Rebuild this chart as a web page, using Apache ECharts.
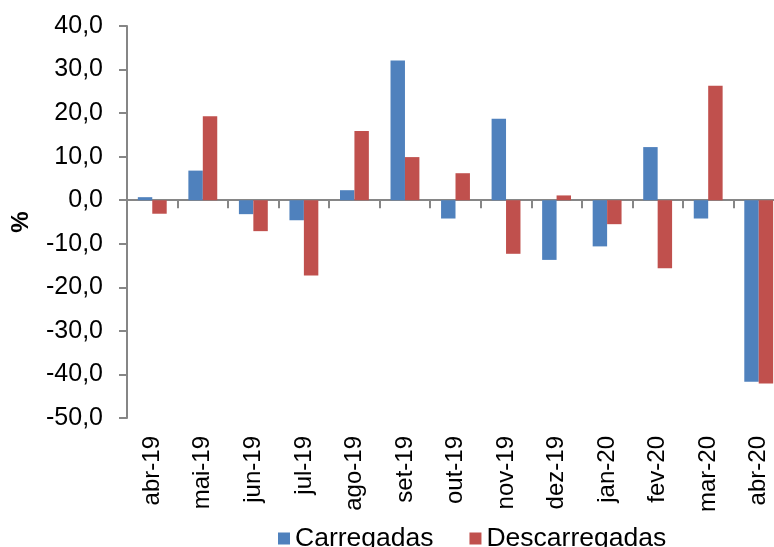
<!DOCTYPE html>
<html>
<head>
<meta charset="utf-8">
<script src="https://cdn.jsdelivr.net/npm/echarts@6/dist/echarts.min.js"></script>
<style>
  html, body { margin: 0; padding: 0; background: #ffffff; }
  #chart { width: 774px; height: 547px; }
</style>
</head>
<body>
<div id="chart"></div>
<script>
// Monthly change (%) of loaded and unloaded cargo
var months = ['abr-19', 'mai-19', 'jun-19', 'jul-19', 'ago-19', 'set-19', 'out-19',
              'nov-19', 'dez-19', 'jan-20', 'fev-20', 'mar-20', 'abr-20'];
var carregadas    = [0.7, 6.8, -3.2, -4.6, 2.3, 32.1, -4.2, 18.7, -13.7, -10.6, 12.2, -4.2, -41.7];
var descarregadas = [-3.1, 19.3, -7.1, -17.3, 15.9, 9.9, 6.2, -12.3, 1.1, -5.5, -15.6, 26.3, -42.1];
var seriesNames = ['Carregadas', 'Descarregadas'];

var FONT = '"Liberation Sans", Arial, sans-serif';
var AXIS_GRAY = '#868686';

var chart = echarts.init(document.getElementById('chart'), null, { renderer: 'canvas' });

chart.setOption({
  animation: false,
  backgroundColor: '#ffffff',
  textStyle: { fontFamily: FONT },
  grid: {
    left: 127, top: 26, right: -10, bottom: 129,
    containLabel: false,
    outerBoundsMode: 'none'
  },
  legend: {
    data: seriesNames,
    left: 278,
    top: 525,
    padding: 0,
    itemWidth: 12,
    itemHeight: 12,
    itemGap: 36,
    icon: 'rect',
    textStyle: { fontFamily: FONT, fontSize: 26.5, color: '#000000' }
  },
  xAxis: [
    {
      // category axis drawn along the zero line
      type: 'category',
      data: months,
      axisLine: { onZero: true, lineStyle: { color: AXIS_GRAY, width: 2 } },
      axisTick: { show: true, length: 8, lineStyle: { color: AXIS_GRAY, width: 2 } },
      axisLabel: { show: false },
      splitLine: { show: false }
    },
    {
      // month labels along the bottom of the plot
      type: 'category',
      data: months,
      position: 'bottom',
      axisLine: { show: false, onZero: false },
      axisTick: { show: false },
      axisLabel: {
        show: true,
        rotate: 90,
        margin: 18,
        interval: 0,
        fontFamily: FONT,
        fontSize: 24,
        color: '#000000'
      },
      splitLine: { show: false }
    }
  ],
  yAxis: {
    type: 'value',
    min: -50,
    max: 40,
    interval: 10,
    name: '%',
    nameLocation: 'middle',
    nameGap: 94,
    nameRotate: 90,
    nameTextStyle: { fontFamily: FONT, fontSize: 24, fontWeight: 'bold', color: '#000000' },
    axisLine: { show: true, lineStyle: { color: AXIS_GRAY, width: 2 } },
    axisTick: { show: true, length: 8, lineStyle: { color: AXIS_GRAY, width: 2 } },
    axisLabel: {
      margin: 24,
      fontFamily: FONT,
      fontSize: 25,
      color: '#000000',
      formatter: function (v) { return v.toFixed(1).replace('.', ','); }
    },
    splitLine: { show: false }
  },
  series: [
    {
      name: seriesNames[0],
      type: 'bar',
      xAxisIndex: 0,
      data: carregadas,
      barGap: '0%',
      barCategoryGap: '42.86%',
      itemStyle: { color: '#4F81BD' }
    },
    {
      name: seriesNames[1],
      type: 'bar',
      xAxisIndex: 0,
      data: descarregadas,
      barGap: '0%',
      barCategoryGap: '42.86%',
      itemStyle: { color: '#C0504D' }
    }
  ]
});
</script>
</body>
</html>
